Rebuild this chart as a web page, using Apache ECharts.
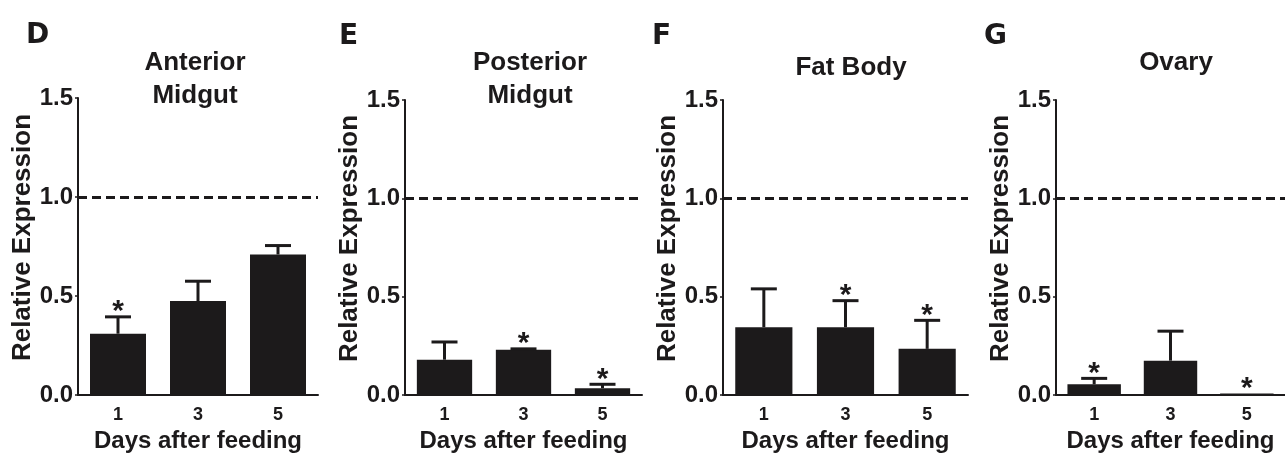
<!DOCTYPE html>
<html>
<head>
<meta charset="utf-8">
<script src="https://cdn.jsdelivr.net/npm/echarts@6/dist/echarts.min.js"></script>
<style>
html,body{margin:0;padding:0;background:#fff;}
#chart{width:1285px;height:458px;}
</style>
</head>
<body>
<div id="chart"></div>
<script>
// ---- data ----
const days = ['1', '3', '5'];
const yTicks = [0, 0.5, 1.0, 1.5];
const panelLetters = ['D', 'E', 'F', 'G'];
const panelTitles = ['Anterior\nMidgut', 'Posterior\nMidgut', 'Fat Body', 'Ovary'];
const yAxisTitle = 'Relative Expression';
const xAxisTitle = 'Days after feeding';
const referenceLevel = 1.0;

const anteriorMean = [0.31, 0.475, 0.71];
const anteriorErr  = [0.085, 0.10, 0.045];
const anteriorSig  = [1, 0, 0];

const posteriorMean = [0.18, 0.23, 0.035];
const posteriorErr  = [0.09, 0.005, 0.02];
const posteriorSig  = [0, 1, 1];

const fatMean = [0.345, 0.345, 0.235];
const fatErr  = [0.195, 0.135, 0.145];
const fatSig  = [0, 1, 1];

const ovaryMean = [0.055, 0.175, 0.008];
const ovaryErr  = [0.03, 0.15, 0];
const ovarySig  = [1, 0, 1];

const means = [anteriorMean, posteriorMean, fatMean, ovaryMean];
const errs  = [anteriorErr, posteriorErr, fatErr, ovaryErr];
const sigs  = [anteriorSig, posteriorSig, fatSig, ovarySig];

// ---- layout (pixels) ----
const grids = [
  {left: 78,   top: 98,  width: 240, height: 300},
  {left: 405,  top: 100, width: 237, height: 298},
  {left: 723,  top: 100, width: 245, height: 300},
  {left: 1056, top: 100, width: 240, height: 297}
];
const letterPos = [[26, 22], [339, 23], [652, 23], [984, 23]];
const titlePos  = [[195, 46], [530, 46], [851, 51], [1176, 46]];

const FONT = 'Liberation Sans, Arial, sans-serif';
const INK = '#1c1a1b';

const chart = echarts.init(document.getElementById('chart'), null, {renderer: 'canvas'});

const titles = [];
panelLetters.forEach((l, i) => {
  titles.push({
    text: l, left: letterPos[i][0], top: letterPos[i][1], padding: 0,
    textStyle: {fontFamily: 'DejaVu Sans', fontWeight: 'bold', fontSize: 28, color: INK}
  });
});
panelTitles.forEach((t, i) => {
  titles.push({
    text: t, left: titlePos[i][0], top: titlePos[i][1], padding: 0, textAlign: 'center',
    textStyle: {fontFamily: FONT, fontWeight: 'bold', fontSize: 26, lineHeight: 33, color: INK}
  });
});

const xAxes = [], yAxes = [], series = [];
grids.forEach((g, i) => {
  xAxes.push({
    type: 'category', gridIndex: i, data: days,
    name: xAxisTitle, nameLocation: 'middle', nameGap: 22,
    nameTextStyle: {fontFamily: FONT, fontWeight: 'bold', fontSize: 24, color: INK},
    axisLine: {lineStyle: {color: INK, width: 2}},
    axisTick: {alignWithLabel: true, length: 5, lineStyle: {color: INK, width: 1.5}},
    axisLabel: {fontFamily: FONT, fontWeight: 'bold', fontSize: 18, color: INK, margin: 11}
  });
  yAxes.push({
    type: 'value', gridIndex: i, min: yTicks[0], max: yTicks[yTicks.length - 1], interval: 0.5,
    name: yAxisTitle, nameLocation: 'middle', nameGap: 41, nameRotate: 90,
    nameTextStyle: {fontFamily: FONT, fontWeight: 'bold', fontSize: 26, color: INK,
      padding: [0, 0, 0, 18]},
    axisLine: {show: true, lineStyle: {color: INK, width: 2}},
    axisTick: {show: true, length: 3, lineStyle: {color: INK, width: 1.5}},
    splitLine: {show: false},
    axisLabel: {
      fontFamily: FONT, fontWeight: 'bold', fontSize: 24, color: INK, margin: 5,
      verticalAlign: 'middle', padding: [0, 0, 12, 0],
      formatter: v => v.toFixed(1)
    }
  });
  series.push({
    type: 'bar', xAxisIndex: i, yAxisIndex: i, data: means[i],
    barWidth: '70%', itemStyle: {color: INK},
    markLine: {
      silent: true, symbol: ['none', 'none'],
      label: {show: false},
      lineStyle: {color: INK, type: [9, 5], width: 3},
      data: [{yAxis: referenceLevel}]
    }
  });
  const errData = means[i].map((m, k) => [k, m, errs[i][k], sigs[i][k]]);
  series.push({
    type: 'custom', xAxisIndex: i, yAxisIndex: i, data: errData, z: 5,
    renderItem: function (params, api) {
      const c = api.value(0), m = api.value(1), e = api.value(2), s = api.value(3);
      const p0 = api.coord([c, m]);
      const p1 = api.coord([c, m + e]);
      const children = [];
      if (e > 0) {
        children.push({type: 'line', shape: {x1: p0[0], y1: p0[1], x2: p1[0], y2: p1[1]},
          style: {stroke: INK, lineWidth: 3}});
        children.push({type: 'line', shape: {x1: p1[0] - 13, y1: p1[1], x2: p1[0] + 13, y2: p1[1]},
          style: {stroke: INK, lineWidth: 3}});
      }
      if (s) {
        children.push({type: 'text', x: p1[0], y: p1[1] + 10,
          style: {text: '*', fontFamily: FONT, fontWeight: 'bold', fontSize: 30, fill: INK,
            align: 'center', verticalAlign: 'bottom'}});
      }
      return {type: 'group', children: children};
    }
  });
});

chart.setOption({
  backgroundColor: '#ffffff',
  animation: false,
  title: titles,
  grid: grids.map(g => Object.assign({containLabel: false}, g)),
  xAxis: xAxes,
  yAxis: yAxes,
  series: series
});
</script>
</body>
</html>
